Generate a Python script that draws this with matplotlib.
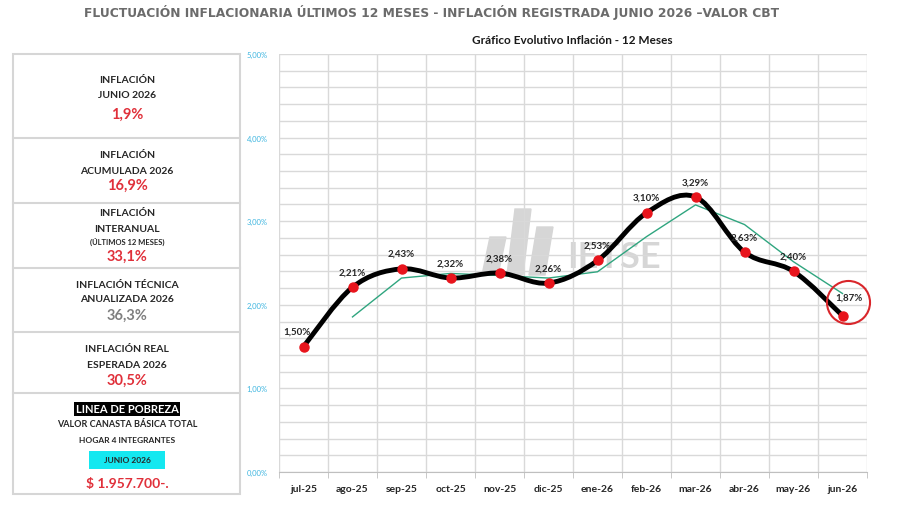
import matplotlib
matplotlib.use('Agg')
import matplotlib.pyplot as plt
from matplotlib.path import Path
from matplotlib.patches import PathPatch, Rectangle, Polygon
from matplotlib.transforms import offset_copy

plt.rcParams['font.family'] = ['Lato', 'DejaVu Sans']

# datos
meses = ['jul-25', 'ago-25', 'sep-25', 'oct-25', 'nov-25', 'dic-25',
         'ene-26', 'feb-26', 'mar-26', 'abr-26', 'may-26', 'jun-26']
inflacion = [1.50, 2.21, 2.43, 2.32, 2.38, 2.26, 2.53, 3.10, 3.29, 2.63, 2.40, 1.87]
# media movil (linea verde), empieza en ago-25
media_x = [1, 2, 3, 4, 5, 6, 7, 8, 9, 10, 11]
media_movil = [1.855, 2.32, 2.375, 2.35, 2.32, 2.395, 2.815, 3.195, 2.96, 2.515, 2.135]
y_ticks = [0, 1, 2, 3, 4, 5]

panel = [
    (['INFLACIÓN', 'JUNIO 2026'], '1,9%', '#e0303a'),
    (['INFLACIÓN', 'ACUMULADA 2026'], '16,9%', '#e0303a'),
    (['INFLACIÓN', 'INTERANUAL', '(ÚLTIMOS 12 MESES)'], '33,1%', '#e0303a'),
    (['INFLACIÓN TÉCNICA', 'ANUALIZADA 2026'], '36,3%', '#7f7f7f'),
    (['INFLACIÓN REAL', 'ESPERADA 2026'], '30,5%', '#e0303a'),
]
canasta = '$ 1.957.700-.'

fig = plt.figure(figsize=(9, 5.06), dpi=100)

# capa de fondo en pixeles para textos y recuadros
bg = fig.add_axes([0, 0, 1, 1], zorder=0)
bg.set_xlim(0, 900)
bg.set_ylim(506, 0)
bg.axis('off')

ax = fig.add_axes([279 / 900, 33 / 506, 588 / 900, 418 / 506], zorder=2)
ax.patch.set_alpha(0)

# grilla
ax.set_xlim(-0.5, 11.5)
ax.set_ylim(0, 5)
for i in range(13):
    ax.axvline(i - 0.5, color='#d9d9d9', lw=1, zorder=0)
for k in range(26):
    ax.axhline(k * 0.2, color='#d9d9d9', lw=1, zorder=0)
for s in ['top', 'right', 'left']:
    ax.spines[s].set_visible(False)
ax.spines['bottom'].set_color('#bfbfbf')

# marca de agua (logo IETSE), detras de las lineas
marca = '#d6d6d6'
wm = fig.add_axes([0, 0, 1, 1], zorder=1)
wm.set_xlim(0, 900)
wm.set_ylim(506, 0)
wm.axis('off')
for xb, yt in [(492, 238), (517, 210), (539, 228)]:
    wm.add_patch(Polygon([(xb - 10, 276), (xb + 6, 276), (xb + 14, yt), (xb - 2, yt)],
                         closed=True, color=marca))
wm.text(614, 258, 'IETSE', fontsize=26, fontweight='bold', color=marca,
        ha='center', va='center')

ax.set_yticks(y_ticks)
ax.set_yticklabels([f'{v:.2f}'.replace('.', ',') + '%' for v in y_ticks],
                   fontsize=5.5, color='#3fb6e0')
ax.tick_params(axis='y', length=0, pad=8)
ax.set_xticks(range(12))
ax.set_xticklabels(meses, fontsize=7.5, fontweight='bold', color='#262626')
ax.set_xticks([i - 0.5 for i in range(13)], minor=True)
ax.tick_params(axis='x', which='major', length=0, pad=9)
ax.tick_params(axis='x', which='minor', length=4, color='#bfbfbf')

# linea verde
ax.plot(media_x, media_movil, color='#2fa57f', lw=1, zorder=3)

# linea suavizada (estilo Excel)
n = len(inflacion)
verts = [(0, inflacion[0])]
codes = [Path.MOVETO]
for i in range(n - 1):
    p0 = (i - 1, inflacion[i - 1]) if i > 0 else (i, inflacion[i])
    p1 = (i, inflacion[i])
    p2 = (i + 1, inflacion[i + 1])
    p3 = (i + 2, inflacion[i + 2]) if i + 2 < n else p2
    c1 = (p1[0] + (p2[0] - p0[0]) / 6, p1[1] + (p2[1] - p0[1]) / 6)
    c2 = (p2[0] - (p3[0] - p1[0]) / 6, p2[1] - (p3[1] - p1[1]) / 6)
    verts += [c1, c2, p2]
    codes += [Path.CURVE4] * 3
ax.add_patch(PathPatch(Path(verts, codes), fill=False, color='black', lw=3.5,
                       capstyle='round', joinstyle='round', zorder=4))
ax.plot(range(n), inflacion, 'o', color='#e8141c', ms=6.5, zorder=5)

# etiquetas
for i, v in enumerate(inflacion):
    txt = f'{v:.2f}'.replace('.', ',') + '%'
    if i == n - 1:
        off = (4.5, 13)
    elif i == 0:
        off = (-5, 11)
    else:
        off = (0, 11)
    ax.annotate(txt, (i, v), xytext=off, textcoords='offset points',
                ha='center', va='center', fontsize=7, fontweight='bold',
                color='#262626', zorder=6)

# circulo rojo en el ultimo dato
tr = offset_copy(ax.transData, fig=fig, x=3.6, y=10, units='points')
ax.plot([n - 1], [inflacion[-1]], 'o', ms=31, mfc='none', mec='#d9262b',
        mew=1.5, transform=tr, zorder=6, clip_on=False)

# titulos
fig.text(432 / 900, 1 - 12 / 506, 'FLUCTUACIÓN INFLACIONARIA ÚLTIMOS 12 MESES - INFLACIÓN REGISTRADA JUNIO 2026 –VALOR CBT',
         ha='center', va='center', fontsize=8.8, fontweight='bold', color='#6b6b6b',
         family='DejaVu Sans')
fig.text(572 / 900, 1 - 40 / 506, 'Gráfico Evolutivo Inflación - 12 Meses',
         ha='center', va='center', fontsize=8.5, fontweight='bold', color='#1a1a1a')

# panel izquierdo
bg.add_patch(Rectangle((13, 55), 227, 440, fill=False, ec='#d6d6d6', lw=1.5))
cortes = [55, 139, 204, 269, 333, 394]
for y in cortes[1:]:
    bg.plot([13, 240], [y, y], color='#d6d6d6', lw=1.5)

centro = 127
pos_textos = [[80, 95], [155, 171], [214, 229, 242], [285, 300], [350, 365]]
pos_valor = [115, 186, 257, 316, 381]
for (lineas, valor, col), ys, yv in zip(panel, pos_textos, pos_valor):
    for lin, y in zip(lineas, ys):
        small = lin.startswith('(')
        bg.text(centro, y, lin, ha='center', va='center', fontweight='bold',
                fontsize=5.5 if small else 7.5, color='#262626')
    bg.text(centro, yv, valor, ha='center', va='center', fontweight='bold',
            fontsize=10.5, color=col)

bg.text(centro, 410, 'LINEA DE POBREZA', ha='center', va='center', fontsize=8,
        fontweight='bold', color='white',
        bbox=dict(boxstyle='square,pad=0.15', fc='black', ec='none'))
bg.text(centro, 425, 'VALOR CANASTA BÁSICA TOTAL', ha='center', va='center',
        fontsize=6.5, fontweight='bold', color='#262626')
bg.text(centro, 441, 'HOGAR 4 INTEGRANTES', ha='center', va='center',
        fontsize=6, fontweight='bold', color='#262626')
bg.add_patch(Rectangle((89, 452), 76, 18, fc='#14e8f0', ec='none'))
bg.text(centro, 461, 'JUNIO 2026', ha='center', va='center',
        fontsize=6, fontweight='bold', color='#262626')
bg.text(centro, 484, canasta, ha='center', va='center',
        fontsize=10, fontweight='bold', color='#e0303a')

fig.savefig('out.png', dpi=100)
